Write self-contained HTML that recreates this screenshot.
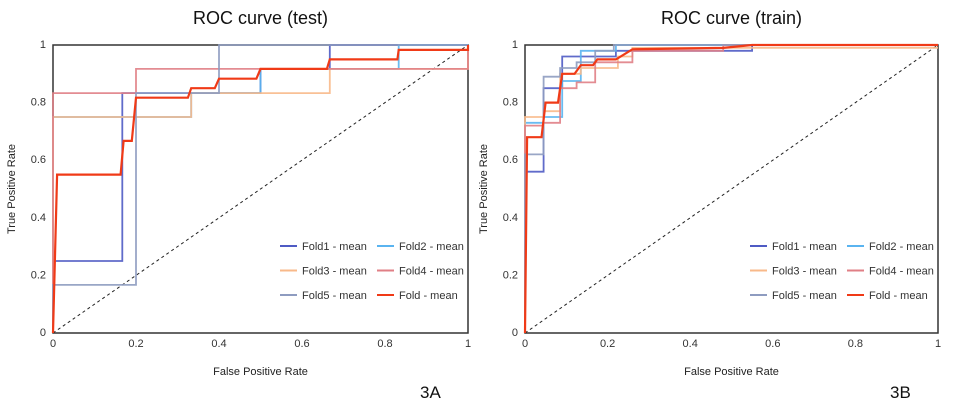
<!DOCTYPE html>
<html><head><meta charset="utf-8"><style>
body{margin:0;background:#fff;width:960px;height:409px;overflow:hidden;font-family:"Liberation Sans",sans-serif}
svg text{font-family:"Liberation Sans",sans-serif}
</style></head><body>
<svg id="svg" width="960" height="409"></svg>
<script>
const ticks=[0,0.2,0.4,0.6,0.8,1];
const tickLabels=["0","0.2","0.4","0.6","0.8","1"];
const seriesNames=["Fold1 - mean","Fold2 - mean","Fold3 - mean","Fold4 - mean","Fold5 - mean","Fold - mean"];
const colors=["#4f5bc4","#5ab4f0","#f8b98a","#e07f86","#8e9cc0","#f03a17"];
// test
const testFold1X=[0,0,.167,.167,.5,.5,.667,.667,1];
const testFold1Y=[0,.25,.25,.833,.833,.917,.917,1,1];
const testFold2X=[0,0,.333,.333,.5,.5,.833,.833,1];
const testFold2Y=[0,.75,.75,.833,.833,.917,.917,1,1];
const testFold3X=[0,0,.333,.333,.667,.667,1,1];
const testFold3Y=[0,.75,.75,.833,.833,.917,.917,1];
const testFold4X=[0,0,.2,.2,1,1];
const testFold4Y=[0,.833,.833,.917,.917,1];
const testFold5X=[0,0,.2,.2,.4,.4,1];
const testFold5Y=[0,.167,.167,.833,.833,1,1];
const testMeanX=[0,.01,.163,.17,.19,.2,.325,.333,.39,.4,.49,.5,.66,.667,.83,.833,1,1];
const testMeanY=[0,.55,.55,.667,.667,.817,.817,.85,.85,.883,.883,.917,.917,.95,.95,.983,.983,1];
// train
const trainFold1X=[0,0,.045,.045,.09,.09,.22,.22,.55,.55,1];
const trainFold1Y=[0,.56,.56,.85,.85,.96,.96,.98,.98,1,1];
const trainFold2X=[0,0,.045,.045,.09,.09,.135,.135,.22,.22,1];
const trainFold2Y=[0,.73,.73,.75,.75,.875,.875,.98,.98,1,1];
const trainFold3X=[0,0,.045,.045,.085,.085,.135,.135,.225,.225,.26,.26,1];
const trainFold3Y=[0,.75,.75,.77,.77,.9,.9,.92,.92,.96,.96,.99,.99];
const trainFold4X=[0,0,.045,.045,.085,.085,.125,.125,.17,.17,.26,.26,.48,.48,1];
const trainFold4Y=[0,.72,.72,.73,.73,.85,.85,.87,.87,.94,.94,.98,.98,1,1];
const trainFold5X=[0,0,.045,.045,.085,.085,.125,.125,.17,.17,.215,.215,1];
const trainFold5Y=[0,.62,.62,.89,.89,.92,.92,.94,.94,.98,.98,1,1];
const trainMeanX=[0,.005,.04,.05,.08,.09,.12,.135,.165,.175,.22,.26,.48,.55,1];
const trainMeanY=[0,.68,.68,.8,.8,.9,.9,.93,.93,.95,.95,.985,.99,1,1];

const NS="http://www.w3.org/2000/svg";
const svg=document.getElementById('svg');
function mk(tag,attrs,parent,text){const e=document.createElementNS(NS,tag);for(const k in attrs)e.setAttribute(k,attrs[k]);if(text!==undefined)e.textContent=text;(parent||svg).appendChild(e);return e;}

function chart(id,x0,x1,title,letter,series,legX){
  const y0=333,y1=45;
  const sx=v=>x0+v*(x1-x0), sy=v=>y0+v*(y1-y0);
  const g=mk('g',{});
  
  
  const t=mk('text',{x:(x0+x1)/2,y:24,'font-size':18,'text-anchor':'middle',fill:'#111'},g,title);
  
  
  const box=mk('rect',{x:x0,y:y1,width:x1-x0,height:y0-y1,fill:'none',stroke:'#333','stroke-width':1.5},g);
  
  
  ticks.forEach((v,i)=>{
    const a=mk('text',{x:sx(v),y:347,'font-size':11,'text-anchor':'middle',fill:'#333'},g,tickLabels[i]);
    
    
    const b=mk('text',{x:x0-7,y:sy(v)+3,'font-size':11,'text-anchor':'end',fill:'#333'},g,tickLabels[i]);
    
    
  });
  const xl=mk('text',{x:(x0+x1)/2,y:375,'font-size':11,'text-anchor':'middle',fill:'#222'},g,'False Positive Rate');
  
  
  const yl=mk('text',{x:0,y:0,'font-size':11,'text-anchor':'middle',fill:'#222',transform:`translate(${x0-38},${(y0+y1)/2}) rotate(-90)`},g,'True Positive Rate');
  
  
  const lt=mk('text',{x:x1-48,y:398,'font-size':17,fill:'#111'},g,letter);
  
  
  const d=mk('line',{x1:sx(0),y1:sy(0),x2:sx(1),y2:sy(1),stroke:'#222','stroke-width':1,'stroke-dasharray':'3,3'},g);
  
  
  series.forEach((s,i)=>{
    const p=s[0].map((x,j)=>sx(x).toFixed(1)+','+sy(s[1][j]).toFixed(1)).join(' ');
    const pl=mk('polyline',{points:p,fill:'none',stroke:colors[i],'stroke-width':i==5?2.2:1.8,opacity:i==5?1:0.9},g);
    
    
  });
  seriesNames.forEach((n,i)=>{
    const lx=legX+(i%2)*97, ly=246+Math.floor(i/2)*24.5;
    const le=mk('g',{},g);
    
    
    mk('line',{x1:lx,y1:ly,x2:lx+17,y2:ly,stroke:colors[i],'stroke-width':2},le);
    mk('text',{x:lx+22,y:ly+4,'font-size':11,fill:'#333'},le,n);
  });
}
chart('test',53,468,'ROC curve (test)','3A',
 [[testFold1X,testFold1Y],[testFold2X,testFold2Y],[testFold3X,testFold3Y],[testFold4X,testFold4Y],[testFold5X,testFold5Y],[testMeanX,testMeanY]],280);
chart('train',525,938,'ROC curve (train)','3B',
 [[trainFold1X,trainFold1Y],[trainFold2X,trainFold2Y],[trainFold3X,trainFold3Y],[trainFold4X,trainFold4Y],[trainFold5X,trainFold5Y],[trainMeanX,trainMeanY]],750);
</script>
</body></html>
